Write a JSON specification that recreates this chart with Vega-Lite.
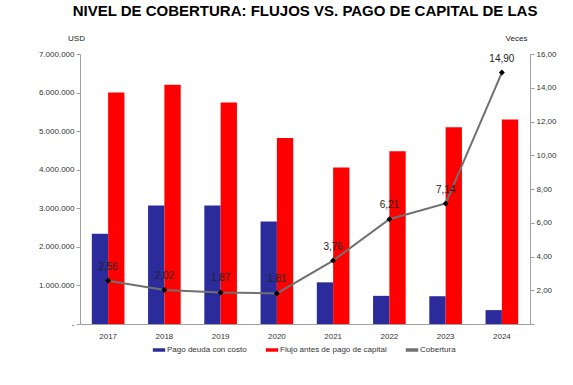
{
  "$schema": "https://vega.github.io/schema/vega-lite/v6.json",
  "width": 573,
  "height": 385,
  "autosize": {"type": "fit", "contains": "padding"},
  "padding": {"left": 38, "right": 16, "top": 4, "bottom": 45},
  "background": "white",
  "config": {
    "locale": {"number": {"decimal": ",", "thousands": ".", "grouping": [3], "currency": ["$", ""]}},
    "font": "Liberation Sans",
    "view": {"stroke": null},
    "axis": {
      "labelFont": "Liberation Sans",
      "labelFontSize": 8,
      "labelColor": "#333333",
      "titleFont": "Liberation Sans",
      "titleFontSize": 8,
      "titleFontWeight": "normal",
      "titleColor": "#222222",
      "domainColor": "#a0a0a0",
      "tickColor": "#a0a0a0",
      "grid": false
    },
    "legend": {
      "labelFont": "Liberation Sans",
      "labelFontSize": 8,
      "labelColor": "#333333"
    }
  },
  "title": {
    "text": "NIVEL DE COBERTURA: FLUJOS VS. PAGO DE CAPITAL DE LAS",
    "font": "Liberation Sans",
    "fontSize": 15,
    "fontWeight": "bold",
    "color": "#000000",
    "anchor": "middle",
    "offset": 15
  },
  "datasets": {
    "barras": [
      {"anio": "2017", "serie": "Pago deuda con costo", "valor": 2340000},
      {"anio": "2017", "serie": "Flujo antes de pago de capital", "valor": 6000000},
      {"anio": "2018", "serie": "Pago deuda con costo", "valor": 3070000},
      {"anio": "2018", "serie": "Flujo antes de pago de capital", "valor": 6200000},
      {"anio": "2019", "serie": "Pago deuda con costo", "valor": 3070000},
      {"anio": "2019", "serie": "Flujo antes de pago de capital", "valor": 5740000},
      {"anio": "2020", "serie": "Pago deuda con costo", "valor": 2660000},
      {"anio": "2020", "serie": "Flujo antes de pago de capital", "valor": 4820000},
      {"anio": "2021", "serie": "Pago deuda con costo", "valor": 1080000},
      {"anio": "2021", "serie": "Flujo antes de pago de capital", "valor": 4060000},
      {"anio": "2022", "serie": "Pago deuda con costo", "valor": 730000},
      {"anio": "2022", "serie": "Flujo antes de pago de capital", "valor": 4480000},
      {"anio": "2023", "serie": "Pago deuda con costo", "valor": 720000},
      {"anio": "2023", "serie": "Flujo antes de pago de capital", "valor": 5100000},
      {"anio": "2024", "serie": "Pago deuda con costo", "valor": 360000},
      {"anio": "2024", "serie": "Flujo antes de pago de capital", "valor": 5300000}
    ],
    "cobertura": [
      {"anio": "2017", "cobertura": 2.56},
      {"anio": "2018", "cobertura": 2.02},
      {"anio": "2019", "cobertura": 1.87},
      {"anio": "2020", "cobertura": 1.81},
      {"anio": "2021", "cobertura": 3.76},
      {"anio": "2022", "cobertura": 6.21},
      {"anio": "2023", "cobertura": 7.14},
      {"anio": "2024", "cobertura": 14.9}
    ]
  },
  "layer": [
    {
      "data": {"name": "barras"},
      "mark": {"type": "bar"},
      "encoding": {
        "x": {
          "field": "anio",
          "type": "nominal",
          "scale": {"paddingInner": 0.42, "paddingOuter": 0.21},
          "axis": {"title": null, "labelAngle": 0, "labelPadding": 8, "ticks": false}
        },
        "xOffset": {"field": "serie", "sort": ["Pago deuda con costo", "Flujo antes de pago de capital"]},
        "y": {
          "field": "valor",
          "type": "quantitative",
          "scale": {"domain": [0, 7000000]},
          "axis": {
            "title": "USD",
            "titleAngle": 0,
            "titleAlign": "center",
            "titleBaseline": "bottom",
            "titleX": -4,
            "titleY": -12,
            "values": [0, 1000000, 2000000, 3000000, 4000000, 5000000, 6000000, 7000000],
            "labelExpr": "datum.value == 0 ? '-' : format(datum.value, ',.0f')",
            "tickSize": 4
          }
        },
        "color": {
          "field": "serie",
          "type": "nominal",
          "scale": {
            "domain": ["Pago deuda con costo", "Flujo antes de pago de capital", "Cobertura"],
            "range": ["#2b2b9c", "#ff0000", "#707070"]
          },
          "legend": {
            "title": null,
            "orient": "none",
            "legendX": 75,
            "legendY": 292,
            "direction": "horizontal",
            "symbolType": "M-1.6,-0.45H1.6V0.45H-1.6Z",
            "symbolSize": 60,
            "symbolStrokeWidth": 0,
            "columnPadding": 18
          }
        }
      }
    },
    {
      "data": {"name": "cobertura"},
      "encoding": {
        "x": {"field": "anio", "type": "nominal"},
        "y": {
          "field": "cobertura",
          "type": "quantitative",
          "scale": {"domain": [0, 16]},
          "axis": {
            "orient": "right",
            "title": "Veces",
            "titleAngle": 0,
            "titleAlign": "center",
            "titleBaseline": "bottom",
            "titleX": -14,
            "titleY": -12,
            "values": [0, 2, 4, 6, 8, 10, 12, 14, 16],
            "labelExpr": "datum.value == 0 ? '' : format(datum.value, '.2f')",
            "tickSize": 4
          }
        }
      },
      "layer": [
        {
          "mark": {"type": "line", "strokeWidth": 2},
          "encoding": {"color": {"datum": "Cobertura"}}
        },
        {
          "mark": {"type": "point", "shape": "diamond", "filled": true, "color": "#000000", "size": 35, "opacity": 1}
        },
        {
          "mark": {"type": "text", "dy": -14, "fontSize": 10, "color": "#222222", "font": "Liberation Sans"},
          "encoding": {"text": {"field": "cobertura", "type": "quantitative", "format": ".2f"}}
        }
      ]
    }
  ],
  "resolve": {"scale": {"y": "independent"}}
}
